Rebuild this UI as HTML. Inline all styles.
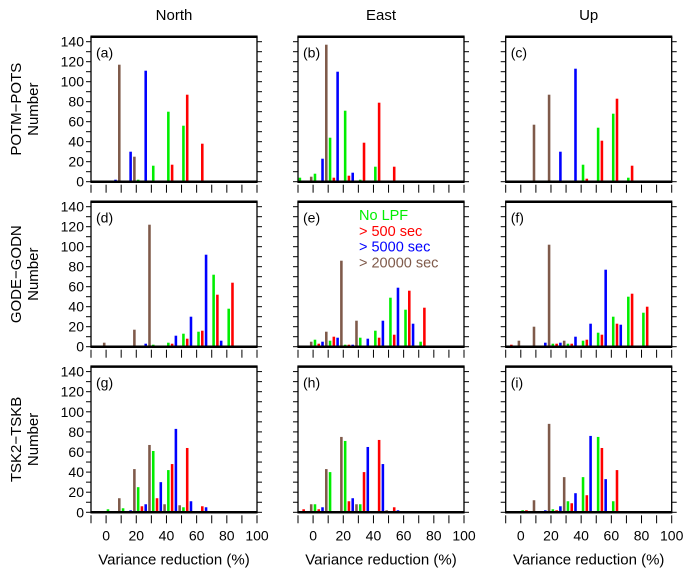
<!DOCTYPE html>
<html><head><meta charset="utf-8"><style>
body{margin:0;background:#fff}
svg text{font-family:"Liberation Sans",Arial,sans-serif;fill:#000}
</style></head><body>
<svg id="c" width="685" height="569" xmlns="http://www.w3.org/2000/svg"></svg>
<script>
const panelLetters=["(a)","(b)","(c)","(d)","(e)","(f)","(g)","(h)","(i)"];
const colTitles=["North","East","Up"];
const rowTitles=["POTM\u2212POTS","GODE\u2212GODN","TSK2\u2212TSKB"];
const seriesNames=["No LPF","> 500 sec","> 5000 sec","> 20000 sec"];
const seriesColors=["#00ee00","#ff0000","#0000ff","#7f5a4a"];
const binStarts=[-10,0,10,20,30,40,50,60,70,80,90];
const yTicks=[0,20,40,60,80,100,120,140];
const xTicks=[0,20,40,60,80,100];
// per panel: [green, red, blue, brown]
const green_a=[0,0,0,2,16,70,56,0,0,0,0];
const red_a=[0,0,0,1,0,17,87,38,0,0,0];
const blue_a=[0,2,30,111,1,0,0,0,0,0,0];
const brown_a=[1,117,25,0,0,0,0,0,0,0,0];
const green_b=[4,8,44,71,2,15,0,0,0,0,0];
const red_b=[0,0,4,6,39,79,15,1,0,0,0];
const blue_b=[0,23,110,9,0,0,0,0,0,0,0];
const brown_b=[5,137,0,0,0,0,0,0,0,0,0];
const green_c=[0,0,0,0,1,17,54,68,4,0,0];
const red_c=[0,0,0,0,1,3,41,83,16,0,0];
const blue_c=[0,0,0,30,113,1,0,0,0,0,0];
const brown_c=[0,57,87,0,0,0,0,0,0,0,0];
const green_d=[0,0,0,0,2,4,13,15,72,38,0];
const red_d=[0,0,0,0,1,3,8,16,52,64,0];
const blue_d=[0,0,1,3,1,11,30,92,6,0,0];
const brown_d=[4,1,17,122,0,0,0,0,0,0,0];
const green_e=[1,7,6,2,9,16,49,37,5,0,0];
const red_e=[0,3,10,2,1,9,12,56,39,0,0];
const blue_e=[0,5,9,2,8,26,59,23,0,0,0];
const brown_e=[5,15,86,26,0,0,0,0,0,0,0];
const green_f=[0,0,0,3,3,6,14,30,50,34,0];
const red_f=[2,0,1,3,3,7,12,23,53,40,0];
const blue_f=[1,1,4,4,10,23,77,22,0,0,0];
const brown_f=[6,20,102,6,0,0,0,0,0,0,0];
const green_g=[0,3,4,25,61,42,5,0,0,0,0];
const red_g=[1,1,1,6,14,48,64,6,0,0,0];
const blue_g=[1,0,2,8,30,83,11,5,0,0,0];
const brown_g=[0,14,43,67,8,7,0,0,0,0,0];
const green_h=[0,8,40,71,8,1,0,0,0,0,0];
const red_h=[3,3,1,11,40,72,5,1,0,0,0];
const blue_h=[1,5,1,14,65,48,2,0,0,0,0];
const brown_h=[8,43,75,8,0,2,0,0,0,0,0];
const green_i=[1,2,1,3,11,35,75,11,0,0,0];
const red_i=[1,2,1,2,9,17,64,42,1,0,0];
const blue_i=[1,1,2,6,19,76,33,0,0,0,0];
const brown_i=[0,12,88,35,0,0,0,0,0,0,0];
const panelData=[
 [green_a,red_a,blue_a,brown_a],[green_b,red_b,blue_b,brown_b],[green_c,red_c,blue_c,brown_c],
 [green_d,red_d,blue_d,brown_d],[green_e,red_e,blue_e,brown_e],[green_f,red_f,blue_f,brown_f],
 [green_g,red_g,blue_g,brown_g],[green_h,red_h,blue_h,brown_h],[green_i,red_i,blue_i,brown_i]];

const svg=document.getElementById('c');
const NS='http://www.w3.org/2000/svg';
function el(tag,attrs,parent){const e=document.createElementNS(NS,tag);for(const k in attrs)e.setAttribute(k,attrs[k]);(parent||svg).appendChild(e);return e;}
const colX=[91,298,505.7], W=166;
const rowZero=[181.7,346.7,512.3], ppu=[1,1,1.005];
colTitles.forEach((t,i)=>{const e=el('text',{x:colX[i]+W/2,y:20,'text-anchor':'middle','font-size':15});e.textContent=t;

});
for(let r=0;r<3;r++){
 const y0=rowZero[r], s=ppu[r];
 const ys=v=>y0-v*s;
 const top=ys(145);
 const g=el('g',{});
 
 
 const cy=(top+y0)/2;
 const t1=el('text',{x:0,y:0,transform:`translate(21,${cy}) rotate(-90)`,'text-anchor':'middle','font-size':15},g);t1.textContent=rowTitles[r];
 const t2=el('text',{x:0,y:0,transform:`translate(38,${cy}) rotate(-90)`,'text-anchor':'middle','font-size':15},g);t2.textContent='Number';
 for(let c=0;c<3;c++){
  const idx=r*3+c, x0=colX[c];
  const xs=u=>x0+(u+10)*W/110;
  const p=el('g',{});
  
  
  // bars
  panelData[idx].forEach((arr,si)=>{
   arr.forEach((v,bi)=>{
    if(v<=0)return;
    const cx=binStarts[bi]+1.25+2.5*si;
    const b=el('rect',{x:xs(cx-0.85),y:ys(v),width:xs(cx+0.85)-xs(cx-0.85),height:ys(0)-ys(v),fill:seriesColors[si]},p);
    
    
   });
  });
  // frame
  el('line',{x1:x0,y1:top,x2:x0,y2:y0,stroke:'#000','stroke-width':1.3},p);
  el('line',{x1:x0+W,y1:top,x2:x0+W,y2:y0,stroke:'#000','stroke-width':1.3},p);
  el('line',{x1:x0-0.6,y1:top,x2:x0+W+0.6,y2:top,stroke:'#000','stroke-width':2.5},p);
  el('line',{x1:x0-0.6,y1:y0,x2:x0+W+0.6,y2:y0,stroke:'#000','stroke-width':2.5},p);
  for(let v=0;v<=140;v+=10){
   el('line',{x1:x0-5,y1:ys(v),x2:x0,y2:ys(v),stroke:'#000','stroke-width':1},p);
   el('line',{x1:x0+W,y1:ys(v),x2:x0+W+5,y2:ys(v),stroke:'#000','stroke-width':1},p);
  }
  for(let u=-10;u<=100;u+=10){
   el('line',{x1:xs(u),y1:y0+3,x2:xs(u),y2:y0+11,stroke:'#000','stroke-width':1},p);
  }
  if(c===0){yTicks.forEach(v=>{const t=el('text',{x:x0-7,y:ys(v)+5,'text-anchor':'end','font-size':14},p);t.textContent=v;});}
  if(r===2){xTicks.forEach(u=>{const t=el('text',{x:xs(u),y:y0+28,'text-anchor':'middle','font-size':14},p);t.textContent=u;});
   const xl=el('text',{x:x0+W/2,y:y0+52,'text-anchor':'middle','font-size':15},p);xl.textContent='Variance reduction (%)';
   
   }
  const lt=el('text',{x:x0+5,y:top+21,'font-size':14},p);lt.textContent=panelLetters[idx];
 }
}
// legend in panel e
const lg=el('g',{});


seriesNames.forEach((n,i)=>{const t=el('text',{x:359,y:220+i*15.8,'font-size':14.5,style:'fill:'+seriesColors[i]},lg);t.textContent=n;

});
</script>
</body></html>
